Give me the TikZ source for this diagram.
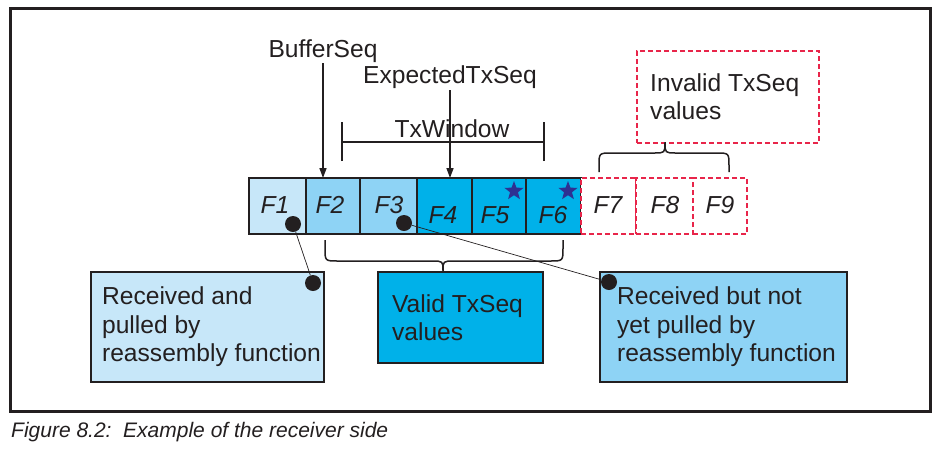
\documentclass[tikz,border=0pt]{standalone}
\usepackage{fontspec}
\setmainfont{Liberation Sans}
\usetikzlibrary{arrows.meta,shapes.geometric}
\definecolor{ink}{HTML}{231F20}
\definecolor{lightblue}{HTML}{C7E7F9}
\definecolor{midblue}{HTML}{8ED3F5}
\definecolor{cyanblue}{HTML}{00B1E9}
\definecolor{redd}{HTML}{E8254A}
\definecolor{starblue}{HTML}{2E3192}
\tikzset{
  cellbox/.style={draw=ink, line width=1.2pt, minimum height=56pt, anchor=north west, inner sep=0pt, outer sep=0pt},
  dashcell/.style={draw=redd, line width=1.5pt, dash pattern=on 5pt off 3pt, minimum height=56pt, anchor=north west, inner sep=0pt, outer sep=0pt},
  flabel/.style={font=\fontsize{24.6}{28}\selectfont\itshape, text=ink, anchor=base, inner sep=0pt},
  toplabel/.style={font=\fontsize{24.6}{28}\selectfont, text=ink, anchor=base, inner sep=1pt},
  infobox/.style={draw=ink, line width=1.2pt, anchor=north west, align=left, font=\fontsize{24.6}{28.5}\selectfont, text=ink, outer sep=0pt, inner sep=0pt},
  dot/.style={circle, fill=ink, minimum size=16pt, inner sep=0pt},
  arr/.style={draw=ink, line width=1.5pt, -{Triangle[length=10pt,width=7pt]}},
  brace/.style={draw=ink, line width=1.5pt},
  leader/.style={draw=ink, line width=0.7pt},
  starmark/.style={star, star points=5, star point ratio=2.4, fill=starblue, minimum size=20pt, inner sep=0pt}
}
\begin{document}
\begin{tikzpicture}[x=1pt,y=-1pt]
\useasboundingbox (0,0) rectangle (935,451);
% frame
\draw[line width=3pt, ink] (10.5,8.5) rectangle (930,411);
% cells
\node[cellbox, fill=lightblue, minimum width=57pt] (f1) at (249,178) {};
\node[cellbox, fill=midblue, minimum width=54pt] (f2) at (306,178) {};
\node[cellbox, fill=midblue, minimum width=57pt] (f3) at (360,178) {};
\node[cellbox, fill=cyanblue, minimum width=55pt] (f4) at (417,178) {};
\node[cellbox, fill=cyanblue, minimum width=54pt] (f5) at (472,178) {};
\node[cellbox, fill=cyanblue, minimum width=55pt] (f6) at (526,178) {};
\node[dashcell, fill=white, minimum width=55pt] (f7) at (581,178) {};
\node[dashcell, fill=white, minimum width=57pt] (f8) at (636,178) {};
\node[dashcell, fill=white, minimum width=54pt] (f9) at (693,178) {};
% cell labels
\node[flabel] (l1) at (275,213) {F1};
\node[flabel] (l2) at (330,213) {F2};
\node[flabel] (l3) at (389,213) {F3};
\node[flabel] (l4) at (443,223) {F4};
\node[flabel] (l5) at (495,223) {F5};
\node[flabel] (l6) at (553,223) {F6};
\node[flabel] (l7) at (608,213) {F7};
\node[flabel] (l8) at (665,213) {F8};
\node[flabel] (l9) at (720,213) {F9};
% stars
\node[starmark] (s5) at (514,191) {};
\node[starmark] (s6) at (568,191) {};
% top labels and arrows
\node[toplabel] (buf) at (323,57) {BufferSeq};
\node[toplabel, inner sep=2pt] (exp) at (450,83) {ExpectedTxSeq};
\node[toplabel] (txw) at (452,137) {TxWindow};
\draw[arr] (buf.south) -- (buf.south |- f2.north);
\draw[arr] (exp.south) -- (exp.south |- f4.north);
% TxWindow bracket
\coordinate (wl) at (342,142);
\coordinate (wr) at (544,142);
\draw[ink, line width=2pt] (wl) -- (wr);
\draw[ink, line width=2pt] ([yshift=-19pt]wl) -- ([yshift=20pt]wl);
\draw[ink, line width=2pt] ([yshift=-19pt]wr) -- ([yshift=20pt]wr);
% invalid box
\node[draw=redd, line width=1.5pt, dash pattern=on 5pt off 3pt, anchor=north west, minimum width=182pt, minimum height=92pt, inner sep=0pt, align=left, font=\fontsize{24.6}{28.5}\selectfont, text=ink] (inv) at (636,50) {Invalid TxSeq\hspace*{6pt}\\values};
% top brace (F7-F9)
\coordinate (ta) at (599,172);
\coordinate (tb) at (729,172);
\draw[brace] (ta) -- (599,166) .. controls (599,153) .. (612,153) -- (654,153) .. controls (665,153) .. (665,142) .. controls (665,153) .. (676,153) -- (716,153) .. controls (729,153) .. (729,166) -- (tb);
% bottom brace (F2-F6)
\coordinate (ba) at (325,240);
\coordinate (bb) at (563,240);
\draw[brace] (ba) -- (325,248) .. controls (325,261) .. (338,261) -- (432,261) .. controls (443,261) .. (443,271) .. controls (443,261) .. (454,261) -- (550,261) .. controls (563,261) .. (563,248) -- (bb);
% info boxes
\node[infobox, fill=lightblue, minimum width=233pt, minimum height=110pt] (rb1) at (91,272) {\hspace*{8pt}Received and\\\hspace*{8pt}pulled by\\\hspace*{8pt}reassembly function};
\node[infobox, fill=cyanblue, minimum width=165pt, minimum height=91pt] (rb2) at (378,272) {Valid TxSeq\hspace*{6pt}\\values};
\node[infobox, fill=midblue, minimum width=247pt, minimum height=110pt] (rb3) at (600,272) {\hspace*{6pt}Received but not\\\hspace*{6pt}yet pulled by\\\hspace*{6pt}reassembly function};
% dots and leaders
\node[dot] (d1) at (293,224) {};
\node[dot] (d2) at (313,283) {};
\node[dot] (d3) at (404,223) {};
\node[dot] (d4) at (609,282) {};
\draw[leader] (d1) -- (d2);
\draw[leader] (d3) -- (d4);
% caption
\node[anchor=base west, inner sep=0pt, font=\fontsize{21}{25}\selectfont\itshape, text=ink] (cap) at (11,437) {Figure 8.2:\ \ Example of the receiver side};
\end{tikzpicture}
\end{document}
